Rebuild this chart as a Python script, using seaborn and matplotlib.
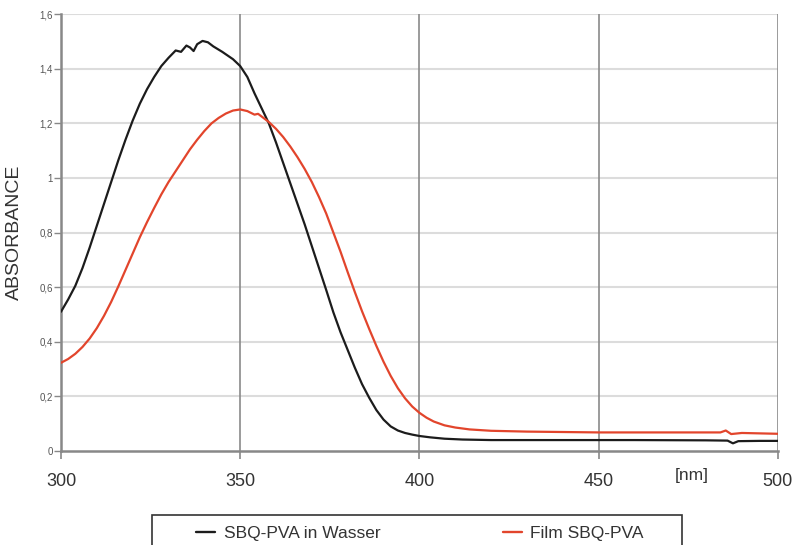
import pandas as pd
import matplotlib
matplotlib.use("Agg")
import matplotlib.pyplot as plt
import seaborn as sns
from matplotlib.patches import Rectangle
from matplotlib.transforms import blended_transform_factory

##### DATA #####
wl_water = [300, 302, 304, 306, 308, 310, 312, 314, 316, 318, 320, 322, 324, 326, 328, 330,
            332, 333.5, 335, 336, 337, 338, 339.5, 341, 342.5, 345, 348, 350, 352, 354, 356,
            358, 360, 362, 364, 366, 368, 370, 372, 374, 376, 378, 380, 382, 384, 386, 388,
            390, 392, 394, 396, 398, 400, 403, 407, 412, 420, 440, 460, 480, 486, 487.5,
            489, 495, 500]
abs_water = [0.51, 0.555, 0.605, 0.67, 0.745, 0.825, 0.905, 0.985, 1.065, 1.14, 1.21, 1.272, 1.325,
             1.37, 1.41, 1.44, 1.467, 1.462, 1.485, 1.478, 1.465, 1.49, 1.502, 1.497, 1.482,
             1.462, 1.435, 1.41, 1.37, 1.31, 1.255, 1.20, 1.13, 1.055, 0.98, 0.905, 0.83, 0.75,
             0.67, 0.59, 0.508, 0.435, 0.37, 0.305, 0.245, 0.195, 0.15, 0.115, 0.09, 0.075, 0.066,
             0.06, 0.055, 0.05, 0.045, 0.042, 0.040, 0.040, 0.040, 0.039, 0.038, 0.028,
             0.036, 0.037, 0.037]

wl_film = [300, 302, 304, 306, 308, 310, 312, 314, 316, 318, 320, 322, 324, 326, 328, 330,
           332, 334, 336, 338, 340, 342, 344, 346, 348, 350, 352, 354, 355, 356, 358, 360,
           362, 364, 366, 368, 370, 372, 374, 376, 378, 380, 382, 384, 386, 388, 390, 392,
           394, 396, 398, 400, 402, 404, 407, 410, 414, 420, 430, 450, 470, 484, 485.5, 487,
           490, 500]
abs_film = [0.323, 0.337, 0.356, 0.381, 0.412, 0.45, 0.495, 0.546, 0.603, 0.663, 0.723, 0.783,
            0.838, 0.89, 0.94, 0.985, 1.025, 1.065, 1.105, 1.14, 1.172, 1.2, 1.22, 1.236, 1.247,
            1.251, 1.245, 1.232, 1.235, 1.225, 1.205, 1.18, 1.15, 1.115, 1.076, 1.033, 0.985,
            0.93, 0.87, 0.80, 0.73, 0.655, 0.582, 0.512, 0.447, 0.385, 0.327, 0.275, 0.23,
            0.193, 0.163, 0.14, 0.122, 0.108, 0.094, 0.086, 0.079, 0.074, 0.071, 0.068, 0.068,
            0.068, 0.075, 0.062, 0.066, 0.063]

label_water = "SBQ-PVA in Wasser"
label_film = "Film SBQ-PVA"

x_ticks = [300, 350, 400, 450, 500]
y_ticks = [0, 0.2, 0.4, 0.6, 0.8, 1.0, 1.2, 1.4, 1.6]
y_tick_labels = ["0", "0,2", "0,4", "0,6", "0,8", "1", "1,2", "1,4", "1,6"]

df = pd.concat([
    pd.DataFrame({"nm": wl_water, "absorbance": abs_water, "sample": label_water}),
    pd.DataFrame({"nm": wl_film, "absorbance": abs_film, "sample": label_film}),
])

##### STYLE #####
sns.set_style("white")
plt.rcParams["font.family"] = ["Liberation Sans", "DejaVu Sans"]

fig = plt.figure(figsize=(7.92, 5.45), dpi=100)
ax = fig.add_axes([0.077, 0.1725, 0.905, 0.8015])

sns.lineplot(data=df, x="nm", y="absorbance", hue="sample", sort=False,
             palette={label_water: "#1c1c1c", label_film: "#e2452c"},
             linewidth=1.6, ax=ax, legend=False, zorder=3)

# grid: light horizontals, darker verticals
for y in y_ticks[1:]:
    ax.axhline(y, color="#dcdcdc", linewidth=1.5, zorder=1)
for x in x_ticks[1:]:
    ax.axvline(x, color="#8a8a8a", linewidth=1.2, zorder=1)

ax.set_xlim(300, 500)
ax.set_ylim(0, 1.6)
ax.set_xticks(x_ticks)
ax.set_yticks(y_ticks)
ax.set_yticklabels(y_tick_labels)

for side in ["top", "right"]:
    ax.spines[side].set_visible(False)
for side in ["left", "bottom"]:
    ax.spines[side].set_color("#888888")
    ax.spines[side].set_linewidth(1.8)

ax.tick_params(axis="y", direction="out", length=5, width=1, color="#888888",
               labelsize=7, labelcolor="#555555", pad=1, left=True)
ax.tick_params(axis="x", direction="out", length=6, width=1.2, color="#888888",
               labelsize=13, labelcolor="#333333", pad=10, bottom=True)

ax.set_xlabel("")
ax.set_ylabel("ABSORBANCE", fontsize=14, color="#333333", labelpad=12)

trans = blended_transform_factory(ax.transData, ax.transAxes)
ax.text(476, -0.04, "[nm]", transform=trans, ha="center", va="top",
        fontsize=12.5, color="#333333")

##### LEGEND (box runs off the bottom of the picture) #####
fig.patches.append(Rectangle((152 / 792, -0.05), 530 / 792, 0.05 + 30 / 545,
                             transform=fig.transFigure, fill=False,
                             edgecolor="#333333", linewidth=1.2))
handles = [plt.Line2D([], [], color="#1c1c1c", linewidth=1.7),
           plt.Line2D([], [], color="#e2452c", linewidth=1.7)]
fig.legend(handles, [label_water, label_film], ncol=2, frameon=False,
           loc="upper left", bbox_to_anchor=(196 / 792, 1 - 526 / 545, 448 / 792, 0.001),
           mode="expand", handlelength=1.1, handletextpad=0.5,
           borderpad=0, borderaxespad=0, fontsize=12.5, labelcolor="#333333")

plt.savefig("out.png", dpi=100)
